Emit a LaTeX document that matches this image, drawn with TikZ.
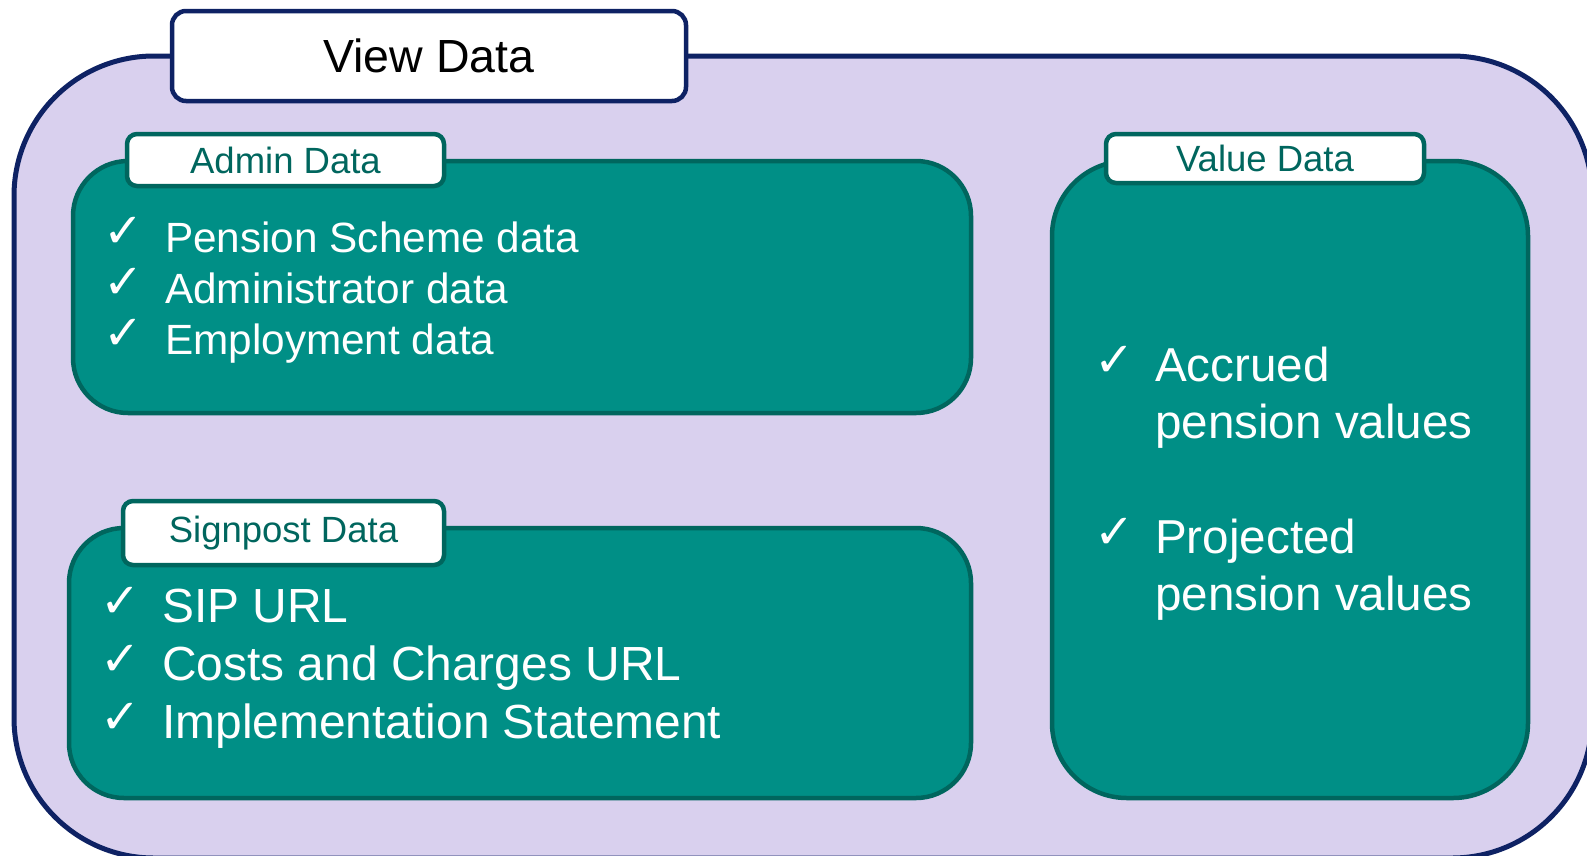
\documentclass[tikz,border=0pt]{standalone}
\usepackage{fontspec}
\setmainfont{Liberation Sans}
\newfontfamily\symfont{DejaVu Sans}
\usetikzlibrary{positioning}
\definecolor{navy}{HTML}{0E2264}
\definecolor{lilac}{HTML}{D9D0EE}
\definecolor{tealfill}{HTML}{008F86}
\definecolor{tealline}{HTML}{00665E}

\begin{document}
\begin{tikzpicture}[x=1pt, y=-1pt,
  outer/.style={draw=navy, fill=lilac, line width=5pt, rounded corners=140pt, inner sep=0pt},
  maintab/.style={draw=navy, fill=white, line width=4.5pt, rounded corners=14pt, inner sep=0pt,
                  font=\fontsize{46.5}{50}\selectfont, text=black},
  group/.style={draw=tealline, fill=tealfill, line width=4.5pt, rounded corners=55pt, inner sep=0pt},
  grouptab/.style={draw=tealline, fill=white, line width=4.5pt, rounded corners=10pt, inner sep=0pt,
                   font=\fontsize{36.5}{40}\selectfont, text=tealline},
  item/.style={anchor=base west, inner sep=0pt, text=white},
  tick/.style={anchor=base west, inner sep=0pt, text=white, yshift=5pt,
               font=\symfont\fontsize{48}{50}\selectfont},
]
\useasboundingbox (0,0) rectangle (1587,855);

% ---- outer frame ----
\node[outer, minimum width=1578pt, minimum height=802pt] (view) at (803,457) {};
\node[maintab, minimum width=514pt, minimum height=90pt] (viewtab) at (429,56) {View Data};

% ---- admin group ----
\node[group, minimum width=898pt, minimum height=252pt] (admin) at (522,287) {};
\node[grouptab, minimum width=317pt, minimum height=52pt] (admintab) at (285.5,160) {Admin Data};
\foreach \txt [count=\i] in {Pension Scheme data, Administrator data, Employment data} {
  \node[tick] (atick\i) at (103,{201+51*\i}) {✓};
  \node[item, font=\fontsize{42.3}{46}\selectfont] (aitem\i) at (165,{201+51*\i}) {\txt};
}

% ---- signpost group ----
\node[group, minimum width=902pt, minimum height=270pt] (sign) at (520,663) {};
\node[grouptab, minimum width=321pt, minimum height=64pt] (signtab) at (283.5,533) {Signpost Data};
\foreach \txt [count=\i] in {SIP URL, Costs and Charges URL, Implementation Statement} {
  \node[tick] (stick\i) at (100,{564+58*\i}) {✓};
  \node[item, font=\fontsize{47.9}{52}\selectfont] (sitem\i) at (162,{564+58*\i}) {\txt};
}

% ---- value group ----
\node[group, rounded corners=75pt, minimum width=476pt, minimum height=637pt] (value) at (1290,479.5) {};
\node[grouptab, minimum width=318pt, minimum height=49pt] (valuetab) at (1265,158.5) {Value Data};
\foreach \first/\second/\y [count=\i] in {Accrued/pension values/381, Projected/pension values/553} {
  \node[tick] (vtick\i) at (1094,\y) {✓};
  \node[item, font=\fontsize{47.6}{52}\selectfont] (vitem\i) at (1155,\y) {\first};
  \node[item, font=\fontsize{47.6}{52}\selectfont] (vmore\i) at (1155,\y+57) {\second};
}
\end{tikzpicture}
\end{document}
